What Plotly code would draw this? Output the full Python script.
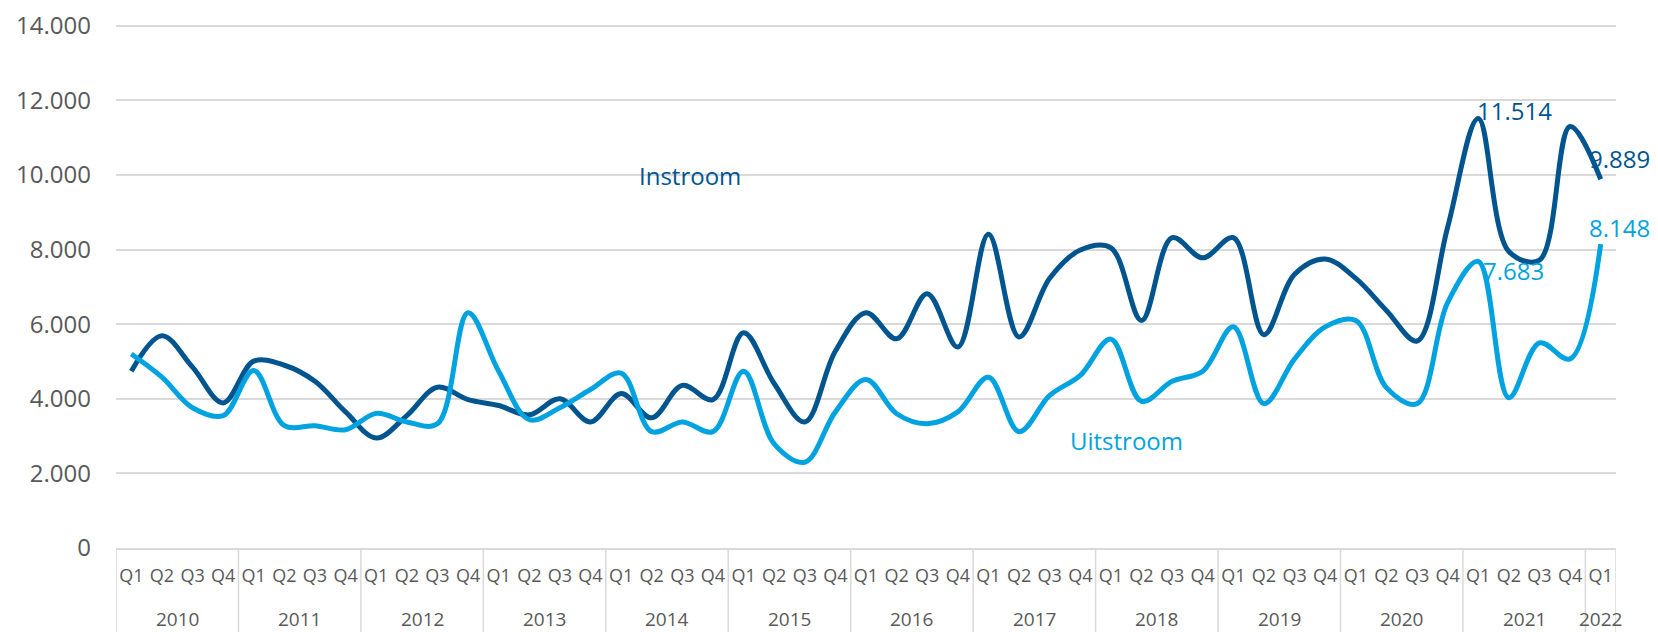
import plotly.graph_objects as go

# kwartalen 2010 Q1 t/m 2022 Q1
years = [str(y) for y in range(2010, 2022) for _ in range(4)] + ["2022"]
quarters = ["Q1", "Q2", "Q3", "Q4"] * 12 + ["Q1"]
periods = [f"{y} {q}" for y, q in zip(years, quarters)]

instroom = [4740, 5690, 4850, 3890, 5010, 4900, 4470, 3650, 2950, 3550, 4310, 3980,
            3820, 3570, 4000, 3380, 4140, 3490, 4360, 3980, 5770, 4410, 3380, 5280,
            6310, 5610, 6820, 5390, 8410, 5660, 7230, 7990, 8050, 6100, 8320, 7780,
            8320, 5720, 7340, 7750, 7230, 6370, 5550, 8600, 11514, 7950, 7720, 11300,
            9889]

uitstroom = [5200, 4580, 3760, 3550, 4760, 3280, 3280, 3170, 3610, 3380, 3330, 6310,
             4740, 3440, 3760, 4250, 4690, 3120, 3380, 3120, 4740, 2790, 2300, 3650,
             4520, 3600, 3330, 3650, 4580, 3120, 4090, 4630, 5600, 3930, 4470, 4740,
             5930, 3870, 5070, 5930, 6100, 4300, 3870, 6580, 7683, 4030, 5500, 5070,
             8148]

dark = "#00558f"
light = "#00a3e0"
grey_txt = "#595959"
grid = "#d9d9d9"

fig = go.Figure()
fig.add_trace(go.Scatter(x=periods, y=instroom, mode="lines", name="Instroom",
                         line=dict(color=dark, width=5, shape="spline", smoothing=1)))
fig.add_trace(go.Scatter(x=periods, y=uitstroom, mode="lines", name="Uitstroom",
                         line=dict(color=light, width=5, shape="spline", smoothing=1)))

big = dict(family="Open Sans", size=24)

# serienamen
fig.add_annotation(x=18.25, y=10000, text="Instroom", showarrow=False,
                   font=dict(big, color=dark))
fig.add_annotation(x=32.5, y=2890, text="Uitstroom", showarrow=False,
                   font=dict(big, color=light))

# datalabels
def fmt(v):
    return f"{v:,}".replace(",", ".")

last = len(quarters) - 1
peak = 44
fig.add_annotation(x=peak, y=instroom[peak], text=fmt(instroom[peak]), showarrow=False,
                   xshift=36, yshift=8, font=dict(big, color=dark))
fig.add_annotation(x=last, y=instroom[last], text=fmt(instroom[last]), showarrow=False,
                   xshift=19, yshift=21, font=dict(big, color=dark))
fig.add_annotation(x=peak, y=uitstroom[peak], text=fmt(uitstroom[peak]), showarrow=False,
                   xshift=35, yshift=-9, font=dict(big, color=light))
fig.add_annotation(x=last, y=uitstroom[last], text=fmt(uitstroom[last]), showarrow=False,
                   xshift=19, yshift=17, font=dict(big, color=light))

# jaartallen + scheidingslijnen (tweede niveau van de categorie-as)
top, bottom = 16, 92
plot_h = 632 - top - bottom
below = -bottom / plot_h
start = 0
for yr in dict.fromkeys(years):
    n = years.count(yr)
    fig.add_annotation(x=start + (n - 1) / 2, y=-71 / plot_h, yref="paper", text=yr,
                       showarrow=False, yanchor="middle",
                       font=dict(family="Open Sans", size=19, color=grey_txt))
    fig.add_shape(type="line", x0=start - 0.5, x1=start - 0.5, y0=0, y1=below,
                  yref="paper", line=dict(color=grid, width=1.5))
    start += n
fig.add_shape(type="line", x0=start - 0.5, x1=start - 0.5, y0=0, y1=below,
              yref="paper", line=dict(color=grid, width=1.5))

fig.update_layout(
    width=1658, height=632,
    margin=dict(l=108, r=50, t=top, b=bottom),
    paper_bgcolor="white", plot_bgcolor="white",
    showlegend=False,
    separators=",.",
)
fig.update_yaxes(range=[0, 14050], tickvals=list(range(0, 14001, 2000)), tickformat=",",
                 showgrid=True, gridcolor=grid, gridwidth=1.5, zeroline=False,
                 showline=False, ticklabeloverflow="allow",
                 tickfont=dict(family="Open Sans", size=24, color=grey_txt),
                 ticklabelstandoff=24, automargin=False)
fig.update_xaxes(type="category", range=[-0.5, len(periods) - 0.5],
                 tickvals=periods, ticktext=quarters,
                 showgrid=False, showline=True, linecolor=grid, linewidth=1.5,
                 ticks="", tickangle=0, automargin=False,
                 tickfont=dict(family="Open Sans", size=18, color=grey_txt),
                 ticklabelstandoff=11)

fig.write_html("out.html")
